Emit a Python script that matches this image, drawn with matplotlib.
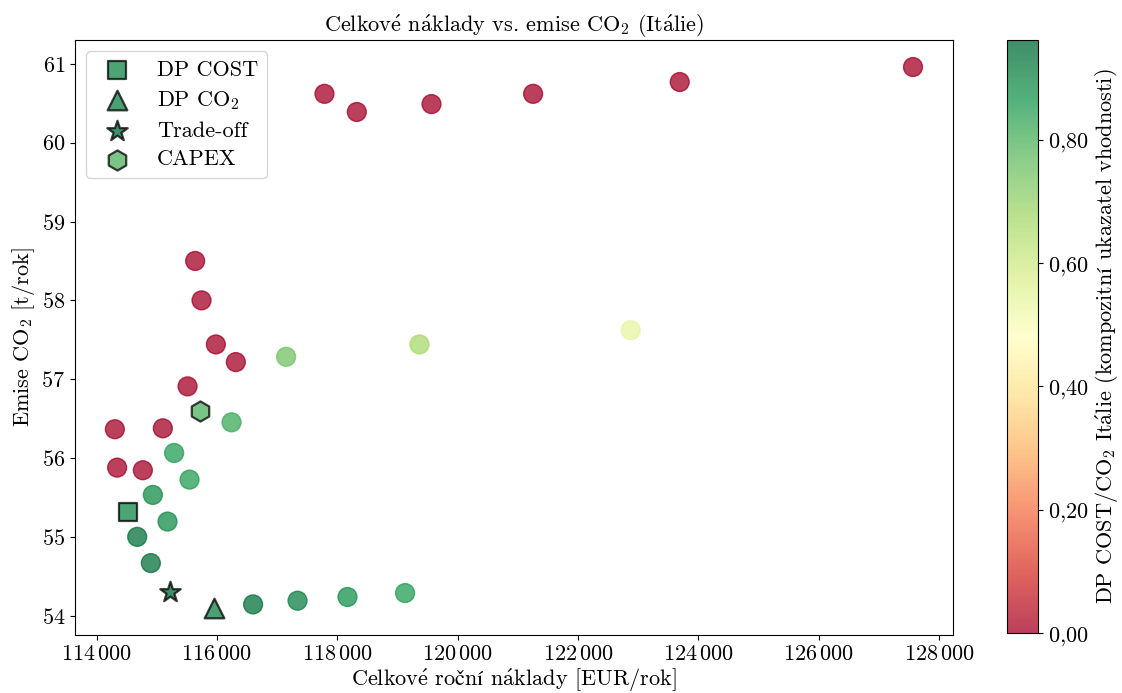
import numpy as np
import matplotlib
matplotlib.use('Agg')
import matplotlib.pyplot as plt
from matplotlib.colors import Normalize
from matplotlib.ticker import FuncFormatter, MultipleLocator

plt.rcParams['font.family'] = ['cmr10', 'DejaVu Serif']
plt.rcParams['mathtext.fontset'] = 'cm'
plt.rcParams['axes.formatter.use_mathtext'] = True
plt.rcParams['font.size'] = 16

# varianty: naklady [EUR/rok], emise [t/rok], kompozitni skore
naklady = [114304, 114342, 114769, 115101, 115512, 115982, 116314, 115638, 115744,
           117787, 118324, 119565, 121253, 123689, 127565,
           114675, 114902, 114935, 115179, 115289, 115545, 116243, 117150, 119365,
           122875, 116601, 117339, 118169, 119126]
emise = [56.365, 55.878, 55.845, 56.377, 56.909, 57.441, 57.217, 58.50, 58.00,
         60.62, 60.39, 60.49, 60.62, 60.77, 60.96,
         55.00, 54.667, 55.532, 55.194, 56.064, 55.726, 56.453, 57.284, 57.441,
         57.622, 54.143, 54.19, 54.237, 54.287]
skore = [0.0] * 15 + [0.94, 0.94, 0.89, 0.89, 0.85, 0.85, 0.82, 0.75, 0.67,
                      0.54, 0.94, 0.91, 0.88, 0.85]

# vybrane varianty
vyber_nazvy = ['DP COST', 'DP CO$_2$', 'Trade-off', 'CAPEX']
vyber_naklady = [114515, 115953, 115223, 115711]
vyber_emise = [55.313, 54.098, 54.304, 56.596]
vyber_skore = [0.90, 0.91, 0.962, 0.80]
vyber_znacky = ['s', '^', '*', 'h']
vyber_velikost = [170, 200, 240, 210]

# cm fonty nemaji ceske znaky -> akcenty pres mathtext
E = r'$\acute{\mathrm{e}}$'
A = r'$\acute{\mathrm{a}}$'
I = r'$\mathrm{í}$'
C = r'$\mathrm{č}$'

norm = Normalize(vmin=0.0, vmax=max(skore + vyber_skore))
cmap = 'RdYlGn'

fig = plt.figure(figsize=(11.22, 6.93), dpi=100)
ax = fig.add_axes([0.0668, 0.0837, 0.7825, 0.8586])
cax = fig.add_axes([0.8975, 0.0866, 0.0276, 0.8557])

sc = ax.scatter(naklady, emise, c=skore, cmap=cmap, norm=norm, s=185,
                alpha=0.75, zorder=2)
for nazev, x, y, c, m, s in zip(vyber_nazvy, vyber_naklady, vyber_emise,
                                vyber_skore, vyber_znacky, vyber_velikost):
    ax.scatter([x], [y], c=[c], cmap=cmap, norm=norm, marker=m, s=s,
               edgecolors='black', linewidths=1.6, alpha=0.75, zorder=3, label=nazev)

ax.xaxis.set_major_locator(MultipleLocator(2000))
ax.xaxis.set_major_formatter(FuncFormatter(
    lambda v, p: r'$%d\,%03d$' % (int(v) // 1000, int(v) % 1000)))
ax.yaxis.set_major_formatter(FuncFormatter(lambda v, p: r'$%d$' % round(v)))

ax.set_xlabel('Celkov' + E + ' ro' + C + 'n' + I + ' n' + A + 'klady [EUR/rok]', labelpad=2)
ax.set_ylabel('Emise CO$_2$ [t/rok]', labelpad=3)
ax.set_title('Celkov' + E + ' n' + A + 'klady vs. emise CO$_2$ (It' + A + 'lie)', fontsize=16)
ax.legend(loc='upper left', labelspacing=0.42)

cb = fig.colorbar(sc, cax=cax)
cb.set_ticks([0.0, 0.2, 0.4, 0.6, 0.8])
cb.ax.yaxis.set_major_formatter(FuncFormatter(
    lambda v, p: (r'$%.2f$' % v).replace('.', '{,}')))
cb.set_label('DP COST/CO$_2$ It' + A + 'lie (kompozitn' + I + ' ukazatel vhodnosti)')

fig.savefig('out.png', dpi=100)
